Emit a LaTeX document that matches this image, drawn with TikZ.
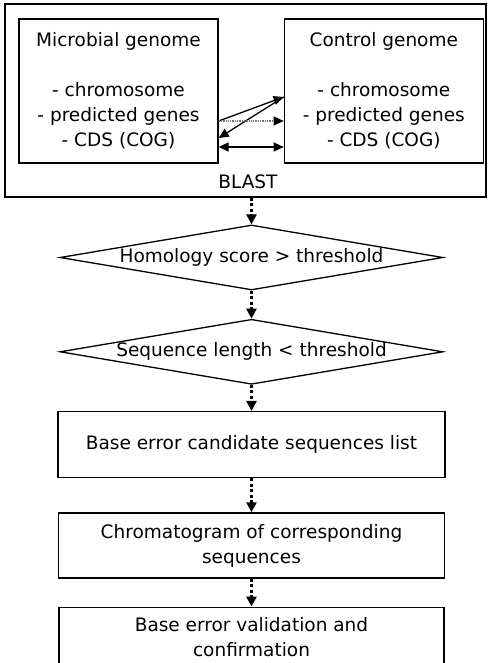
\documentclass[tikz,border=0pt]{standalone}
\usepackage{fontspec}
\setmainfont{DejaVu Sans}
\usepackage{tikz}
\usetikzlibrary{shapes.geometric, arrows.meta, positioning}

\begin{document}
\begin{tikzpicture}[
    x=1pt, y=-1pt,
    font=\fontsize{18.5}{25}\selectfont,
    box/.style={rectangle, draw, line width=1.3pt, align=center, inner sep=0pt},
    test/.style={diamond, draw, line width=1.3pt, aspect=5.9, inner sep=0pt,
                 minimum width=383pt, minimum height=65pt},
    arrow/.style={-{Triangle[length=10pt, width=9pt]}, line width=1.3pt},
    dotarrow/.style={-{Triangle[length=10pt, width=10pt]}, line width=2.8pt,
                     dash pattern=on 3pt off 2.5pt}
]
\useasboundingbox (0,0) rectangle (488,663);

% BLAST comparison
\node[box, minimum width=481pt, minimum height=193pt] (blastbox) at (245.5,100.5) {};
\node[box, minimum width=199pt, minimum height=144pt] (microbial) at (118.5,91)
    {Microbial genome\\[25pt]- chromosome\\- predicted genes\\- CDS (COG)};
\node[box, minimum width=199pt, minimum height=144pt, right=65pt of microbial] (control)
    {Control genome\\[25pt]- chromosome\\- predicted genes\\- CDS (COG)};
\node (blast) at (248,182) {BLAST};

% Arrows between genomes
\draw[arrow] ([yshift=-30pt]microbial.east) -- ([yshift=-6pt]control.west);
\draw[arrow] ([yshift=-6pt]control.west) -- ([yshift=-47pt]microbial.east);
\draw[-{Triangle[length=10pt, width=9pt, color=black]}, line width=1.3pt, draw=black!55, densely dotted]
    ([yshift=-30pt]microbial.east) -- ([yshift=-30pt]control.west);
\draw[arrow, {Triangle[length=10pt, width=9pt]}-{Triangle[length=10pt, width=9pt]}]
    ([yshift=-56pt]microbial.east) -- ([yshift=-56pt]control.west);

% Flow
\node[test] (homology) at (251.5,257.5) {Homology score > threshold};
\node[test, below=28pt of homology] (length) {Sequence length < threshold};
\node[box, minimum width=387pt, minimum height=66pt, below=26pt of length] (list)
    {Base error candidate sequences list};
\node[box, minimum width=386pt, minimum height=65pt, below=34pt of list] (chrom)
    {Chromatogram of corresponding\\sequences};
\node[box, minimum width=385pt, minimum height=59pt, below=28pt of chrom] (valid)
    {Base error validation and\\confirmation};

\draw[dotarrow] (blastbox.south -| homology) -- (homology.north);
\draw[dotarrow] (homology) -- (length);
\draw[dotarrow] (length) -- (list);
\draw[dotarrow] (list) -- (chrom);
\draw[dotarrow] (chrom) -- (valid);

\end{tikzpicture}
\end{document}
